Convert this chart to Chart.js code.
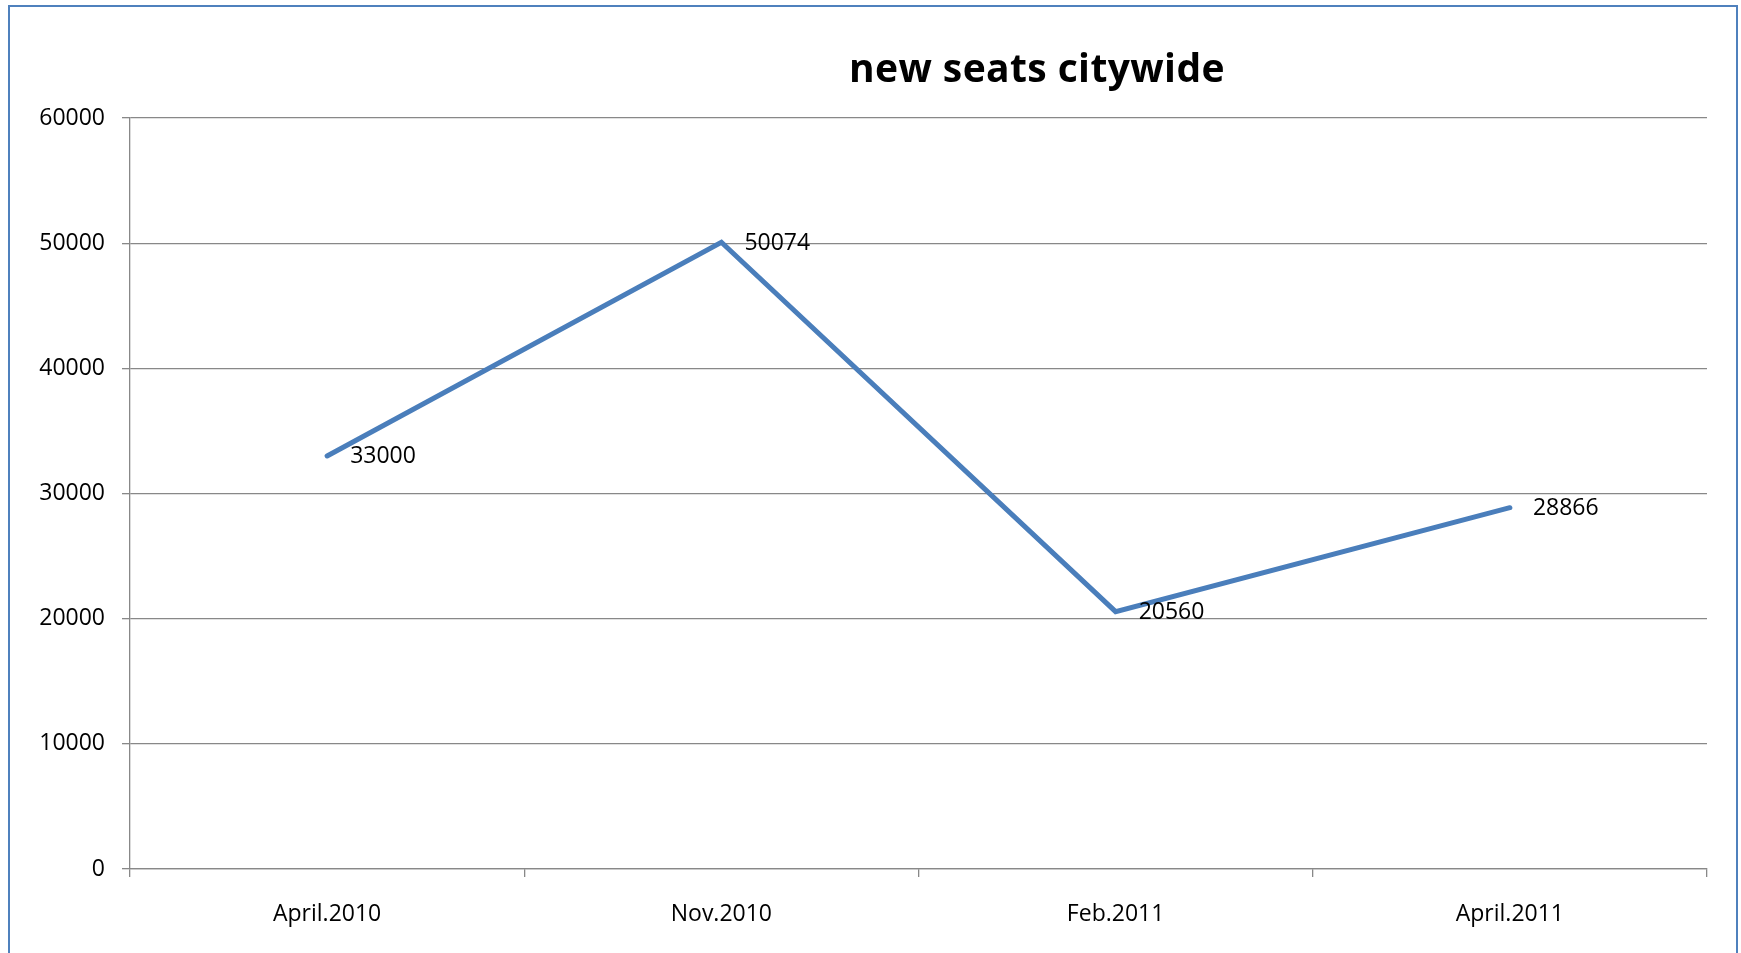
<!DOCTYPE html>
<html><head><meta charset="utf-8">
<script src="https://cdn.jsdelivr.net/npm/chart.js@4.4.1/dist/chart.umd.min.js"></script>
<style>
html,body{margin:0;padding:0;background:#fff;overflow:hidden;}
#wrap{position:relative;width:1741px;height:953px;}
#frame{position:absolute;left:7.5px;top:5px;width:1730px;height:1000px;box-sizing:border-box;border:2.5px solid #4F81BD;pointer-events:none;}
canvas{position:absolute;left:0;top:0;}
</style></head><body>
<div id="wrap"><canvas id="c" width="1741" height="953"></canvas><div id="frame"></div></div>
<script>
// ---- data ----
const chartTitle = 'new seats citywide';
const categories = ['April.2010', 'Nov.2010', 'Feb.2011', 'April.2011'];
const newSeats = [33000, 50074, 20560, 28866];
const yMin = 0;
const yMax = 60000;
const yStep = 10000;

const FONT = "'Open Sans', 'Noto Sans', sans-serif";
const GRID = '#888888';

const titlePlugin = {
  id: 'customTitle',
  afterDraw(chart, args, o) {
    const ctx = chart.ctx;
    ctx.save();
    ctx.font = o.font;
    ctx.fillStyle = o.color;
    ctx.textAlign = 'center';
    ctx.textBaseline = 'alphabetic';
    if ('letterSpacing' in ctx) ctx.letterSpacing = o.letterSpacing;
    ctx.fillText(o.text, o.x, o.y);
    ctx.restore();
  }
};

const valueLabels = {
  id: 'valueLabels',
  afterDatasetsDraw(chart, args, o) {
    const ctx = chart.ctx;
    ctx.save();
    ctx.font = o.font;
    ctx.fillStyle = o.color;
    ctx.textAlign = 'left';
    ctx.textBaseline = 'middle';
    chart.data.datasets.forEach((ds, i) => {
      chart.getDatasetMeta(i).data.forEach((pt, j) => {
        ctx.fillText(String(ds.data[j]), pt.x + o.dx, pt.y + o.dy);
      });
    });
    ctx.restore();
  }
};

function build() {
  new Chart(document.getElementById('c'), {
    type: 'line',
    data: {
      labels: categories,
      datasets: [{
        label: chartTitle,
        data: newSeats,
        borderColor: '#4A7EBB',
        borderWidth: 5,
        borderCapStyle: 'round',
        borderJoinStyle: 'miter',
        pointRadius: 0,
        pointHoverRadius: 0,
        tension: 0,
        fill: false
      }]
    },
    options: {
      responsive: false,
      animation: false,
      devicePixelRatio: 1,
      layout: { padding: { left: 0, top: 118, right: 34, bottom: 0 } },
      plugins: {
        legend: { display: false },
        tooltip: { enabled: false },
        title: { display: false },
        customTitle: { text: chartTitle, font: "bold 39px " + FONT, color: '#000', x: 1037, y: 82, letterSpacing: '0.4px' },
        valueLabels: { font: "23px " + FONT, color: '#000', dx: 23, dy: 1 }
      },
      scales: {
        x: {
          type: 'category',
          offset: true,
          afterFit(s) { s.height = 84; },
          grid: { offset: true, drawOnChartArea: false, drawTicks: true, tickLength: 8, color: GRID, lineWidth: 1.3 },
          border: { display: true, color: GRID, width: 1.3 },
          ticks: { color: '#000', font: { family: FONT, size: 23 }, padding: 24, maxRotation: 0, autoSkip: false }
        },
        y: {
          min: yMin,
          max: yMax,
          afterFit(s) { s.width = 130; },
          grid: { drawOnChartArea: true, drawTicks: true, tickLength: 8, color: GRID, lineWidth: 1.3 },
          border: { display: true, color: GRID, width: 1.3 },
          ticks: { stepSize: yStep, color: '#000', font: { family: FONT, size: 23 }, padding: 17, callback: (v) => String(v) }
        }
      }
    },
    plugins: [titlePlugin, valueLabels]
  });
}

Promise.all([
  document.fonts.load("23px 'Open Sans'"),
  document.fonts.load("bold 39px 'Open Sans'")
]).catch(() => {}).then(build);
</script>
</body></html>
